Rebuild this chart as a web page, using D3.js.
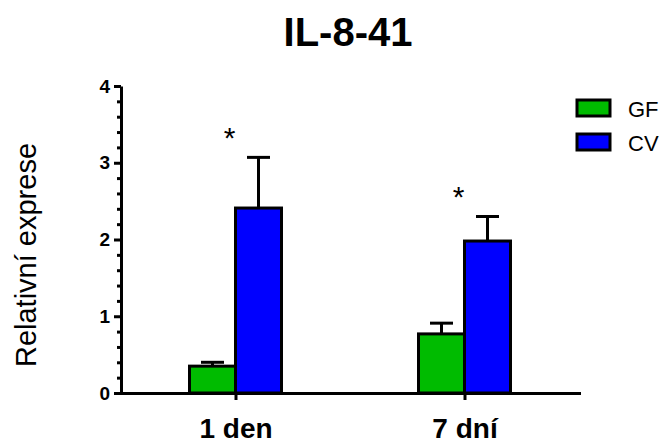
<!DOCTYPE html>
<html><head><meta charset="utf-8">
<script src="https://cdn.jsdelivr.net/npm/d3@7"></script>
<style>body{margin:0;background:#fff;} svg{display:block;font-family:"Liberation Sans",Arial,sans-serif;}</style>
</head><body>
<svg id="c" width="664" height="443"></svg>
<script>
const title = "IL-8-41";
const groups = ["1 den", "7 dní"];
const series = ["GF", "CV"];
const colors = ["#00BB00", "#0000FF"];
const gfMean = [0.35, 0.77];
const gfErr = [0.05, 0.14];
const cvMean = [2.41, 1.98];
const cvErr = [0.66, 0.32];
const yTicks = [0, 1, 2, 3, 4];
const stars = ["*", "*"];
const yLabel = "Relativní exprese";

const means = [gfMean, cvMean];
const errs = [gfErr, cvErr];

const svg = d3.select("#c");
const x0 = d3.scalePoint().domain(groups).range([121, 579]).padding(0.5);
const barW = 46;
const x1 = d3.scaleBand().domain(series).range([-barW, barW]);
const y = d3.scaleLinear().domain([0, 4]).range([393, 86]);

// title
svg.append("text").attr("x", 348).attr("y", 46).attr("text-anchor", "middle")
  .attr("font-size", 40).attr("font-weight", "bold").text(title);

// y label
svg.append("text").attr("transform", "translate(36,255) rotate(-90)")
  .attr("text-anchor", "middle").attr("font-size", 29).text(yLabel);

// bars
series.forEach((s, si) => {
  groups.forEach((g, gi) => {
    const v = means[si][gi], e = errs[si][gi];
    const bx = x0(g) + x1(s);
    const cx = bx + x1.bandwidth() / 2;
    svg.append("line").attr("x1", cx).attr("x2", cx).attr("y1", y(v)).attr("y2", y(v + e))
      .attr("stroke", "#000").attr("stroke-width", 3);
    svg.append("line").attr("x1", cx - x1.bandwidth() / 4).attr("x2", cx + x1.bandwidth() / 4)
      .attr("y1", y(v + e)).attr("y2", y(v + e)).attr("stroke", "#000").attr("stroke-width", 3);
    svg.append("rect").attr("x", bx).attr("y", y(v)).attr("width", x1.bandwidth())
      .attr("height", y(0) - y(v)).attr("fill", colors[si]).attr("stroke", "#000").attr("stroke-width", 3);
  });
});

// stars
groups.forEach((g, gi) => {
  const top = Math.max(gfMean[gi] + gfErr[gi], cvMean[gi] + cvErr[gi]);
  svg.append("text").attr("x", x0(g) - 6).attr("y", y(top) - 9).attr("text-anchor", "middle")
    .attr("font-size", 30).text(stars[gi]);
});

// y axis minor
const minor = d3.range(0, 4.0001, 0.2).filter(v => Math.abs(v - Math.round(v)) > 1e-6);
const yMinor = svg.append("g").attr("transform", "translate(121,0)")
  .call(d3.axisLeft(y).tickValues(minor).tickSize(4).tickFormat(""));
yMinor.select(".domain").remove();
yMinor.selectAll("line").attr("stroke-width", 3);

// y axis major
const yAx = svg.append("g").attr("transform", "translate(121,0)")
  .call(d3.axisLeft(y).tickValues(yTicks).tickSize(7).tickSizeOuter(0).tickPadding(4).tickFormat(d3.format("d")));
yAx.select(".domain").attr("stroke-width", 3);
yAx.selectAll("line").attr("stroke-width", 3);
yAx.selectAll("text").attr("font-size", 19).attr("font-weight", "bold").attr("font-family", "Liberation Sans, Arial, sans-serif");

// x axis
const xAx = svg.append("g").attr("transform", "translate(0,393)")
  .call(d3.axisBottom(x0).tickSize(7).tickSizeOuter(0).tickPadding(18));
xAx.select(".domain").attr("d", "M119.5,0.5H581").attr("stroke-width", 3);
xAx.selectAll("line").attr("stroke-width", 3);
xAx.selectAll("text").attr("font-size", 28).attr("font-weight", "bold").attr("font-family", "Liberation Sans, Arial, sans-serif");

// legend
series.forEach((s, si) => {
  const ly = 100 + si * 34;
  svg.append("rect").attr("x", 577).attr("y", ly).attr("width", 33).attr("height", 16)
    .attr("fill", colors[si]).attr("stroke", "#000").attr("stroke-width", 3);
  svg.append("text").attr("x", 628).attr("y", ly + 17).attr("font-size", 22).text(s);
});
</script>
</body></html>
